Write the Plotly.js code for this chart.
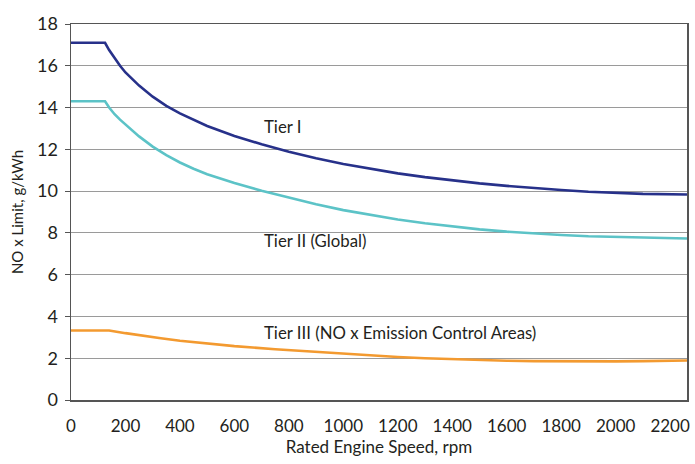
<!DOCTYPE html>
<html>
<head>
<meta charset="utf-8">
<script src="https://cdn.plot.ly/plotly-3.0.1.min.js"></script>
<style>html,body{margin:0;padding:0;background:#fff}#chart{width:695px;height:464px}</style>
</head>
<body>
<div id="chart"></div>
<script>
// Rated engine speed (rpm) and NOx limits (g/kWh)
const tier1Rpm = [0, 125, 140, 160, 180, 200, 250, 300, 350, 400, 450, 500, 600, 700, 800, 900, 1000, 1100, 1200, 1300, 1400, 1500, 1600, 1700, 1800, 1900, 2000, 2100, 2262];
const tier1Val = [17.1, 17.1, 16.75, 16.35, 16.0, 15.68, 15.05, 14.52, 14.08, 13.72, 13.4, 13.12, 12.64, 12.24, 11.88, 11.57, 11.3, 11.06, 10.85, 10.67, 10.51, 10.37, 10.25, 10.14, 10.05, 9.97, 9.91, 9.87, 9.84];

const tier2Rpm = [0, 125, 140, 160, 180, 200, 250, 300, 350, 400, 450, 500, 600, 700, 800, 900, 1000, 1100, 1200, 1300, 1400, 1500, 1600, 1700, 1800, 1900, 2000, 2100, 2262];
const tier2Val = [14.3, 14.3, 14.0, 13.68, 13.42, 13.18, 12.62, 12.13, 11.72, 11.37, 11.07, 10.81, 10.39, 10.02, 9.68, 9.37, 9.09, 8.85, 8.64, 8.46, 8.3, 8.17, 8.06, 7.97, 7.9, 7.84, 7.8, 7.77, 7.73];

const tier3Rpm = [0, 140, 200, 250, 330, 400, 510, 600, 750, 900, 1000, 1100, 1200, 1300, 1400, 1500, 1600, 1700, 1800, 1900, 2000, 2100, 2262];
const tier3Val = [3.33, 3.33, 3.2, 3.1, 2.96, 2.84, 2.69, 2.58, 2.43, 2.3, 2.22, 2.14, 2.06, 2.0, 1.95, 1.91, 1.88, 1.86, 1.85, 1.85, 1.85, 1.86, 1.89];

const seriesNames = ["Tier I", "Tier II (Global)", "Tier III (NO x Emission Control Areas)"];
const labelRpm = [701, 701, 701];
const labelVal = [13.08, 7.65, 3.25];

const xTicks = [0, 200, 400, 600, 800, 1000, 1200, 1400, 1600, 1800, 2000, 2200];
const yTicks = [0, 2, 4, 6, 8, 10, 12, 14, 16, 18];

const colors = ["#27318a", "#5cc3c7", "#f39a30"];
const FONT = "Lato, 'Noto Sans', sans-serif";

const rpms = [tier1Rpm, tier2Rpm, tier3Rpm];
const vals = [tier1Val, tier2Val, tier3Val];

const traces = rpms.map((r, i) => ({
  x: r, y: vals[i], type: "scatter", mode: "lines", name: seriesNames[i],
  line: {color: colors[i], width: 2.6, shape: "linear"},
  hoverinfo: "skip"
}));

const annotations = seriesNames.map((n, i) => ({
  x: labelRpm[i], y: labelVal[i], xref: "x", yref: "y", text: n,
  showarrow: false, xanchor: "left", yanchor: "middle",
  font: {family: FONT, size: 16.8, color: "#231f20"}
}));

const layout = {
  width: 695, height: 464,
  margin: {l: 71, r: 8, t: 24, b: 64},
  paper_bgcolor: "#fff", plot_bgcolor: "#fff",
  showlegend: false,
  font: {family: FONT, color: "#231f20"},
  xaxis: {
    range: [0, 2262], tickvals: xTicks, ticktext: xTicks.map(String),
    showgrid: false, zeroline: false,
    showline: true, linecolor: "#555", linewidth: 1.5, mirror: true,
    ticks: "", ticklabelstandoff: 10,
    tickfont: {family: FONT, size: 17, color: "#231f20"},
    title: {text: "Rated Engine Speed, rpm", font: {family: FONT, size: 17, color: "#231f20"}, standoff: 6}
  },
  yaxis: {
    range: [0, 18], tickvals: yTicks, ticktext: yTicks.map(String),
    showgrid: true, gridcolor: "#9a9a9a", gridwidth: 1.2, zeroline: false,
    showline: true, linecolor: "#555", linewidth: 1.5, mirror: true,
    ticks: "outside", ticklen: 5, tickcolor: "#555", ticklabelstandoff: 3,
    tickfont: {family: FONT, size: 18, color: "#231f20"},
    title: {text: "NO x Limit, g/kWh", font: {family: FONT, size: 15, color: "#231f20"}, standoff: 10}
  },
  annotations: annotations
};

Plotly.newPlot("chart", traces, layout, {displayModeBar: false, staticPlot: true});
</script>
</body>
</html>
